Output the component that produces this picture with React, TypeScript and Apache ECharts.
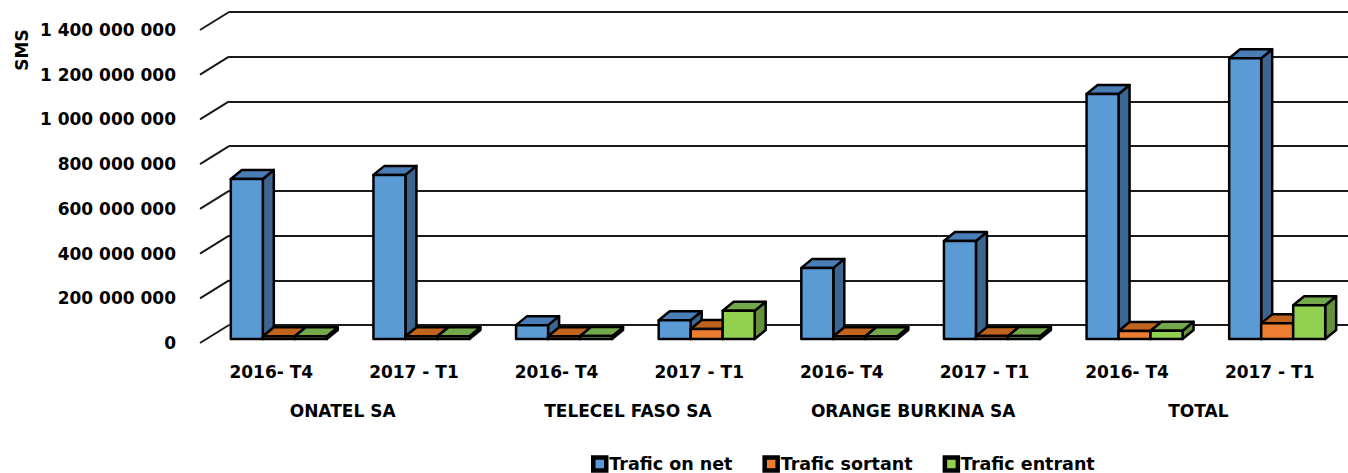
import React, { useEffect, useRef } from "react";
import * as echarts from "echarts";

const categories = ["2016- T4", "2017 - T1", "2016- T4", "2017 - T1", "2016- T4", "2017 - T1", "2016- T4", "2017 - T1"];
const groups = ["ONATEL SA", "TELECEL FASO SA", "ORANGE BURKINA SA", "TOTAL"];
const traficOnNet = [716e6, 734e6, 62e6, 84e6, 318e6, 438e6, 1096e6, 1256e6];
const traficSortant = [12e6, 12e6, 12e6, 45e6, 12e6, 13e6, 36e6, 70e6];
const traficEntrant = [12e6, 12e6, 13e6, 126e6, 12e6, 13e6, 37e6, 151e6];
const yTicks = [0, 2e8, 4e8, 6e8, 8e8, 10e8, 12e8, 14e8];

const FONT = "DejaVu Sans";
const DX = 11;
const DY = -9;
const BAR_W = 32;
const SHIFT = 7.5;
const BASE_LIFT = 4;

const fmt = (v: number) => String(v).replace(/\B(?=(\d{3})+(?!\d))/g, " ");

function barSeries(name: string, data: number[], idx: number, front: string, top: string, side: string) {
  return {
    type: "custom",
    name,
    xAxisIndex: 0,
    yAxisIndex: 0,
    itemStyle: { color: front },
    clip: false,
    data: data.map((v, i) => [i, v]),
    encode: { x: 0, y: 1 },
    renderItem: (params: any, api: any) => {
      const cat = api.value(0);
      const val = api.value(1);
      const b = api.coord([cat, 0]);
      const t = api.coord([cat, val]);
      const x = b[0] + SHIFT - 1.5 * BAR_W + idx * BAR_W;
      const by = b[1] - BASE_LIFT;
      const ty = t[1] - BASE_LIFT;
      const stroke = { stroke: "#000", lineWidth: 2.5, lineJoin: "round" };
      return {
        type: "group",
        children: [
          {
            type: "polygon",
            shape: { points: [[x + BAR_W, ty], [x + BAR_W + DX, ty + DY], [x + BAR_W + DX, by + DY], [x + BAR_W, by]] },
            style: { fill: side, ...stroke },
          },
          {
            type: "polygon",
            shape: { points: [[x, ty], [x + DX, ty + DY], [x + BAR_W + DX, ty + DY], [x + BAR_W, ty]] },
            style: { fill: top, ...stroke },
          },
          {
            type: "rect",
            shape: { x, y: ty, width: BAR_W, height: by - ty },
            style: { fill: front, ...stroke },
          },
        ],
      };
    },
  };
}

export default function App() {
  const ref = useRef<HTMLDivElement>(null);
  useEffect(() => {
    if (!ref.current) return;
    const chart = echarts.init(ref.current, null, { renderer: "svg" });
    const labelStyle = { fontFamily: FONT, fontWeight: "bold", fontSize: 17, color: "#000" };
    chart.setOption({
      animation: false,
      backgroundColor: "#fff",
      grid: [
        { left: 200, right: 7, top: 30, bottom: 130 },
        { left: 229, right: 0, top: 12, bottom: 148 },
      ],
      xAxis: [
        {
          type: "category",
          gridIndex: 0,
          data: categories,
          axisLine: { show: false },
          axisTick: { show: false },
          axisLabel: { ...labelStyle, margin: 20, interval: 0 },
        },
        {
          type: "category",
          gridIndex: 0,
          position: "bottom",
          offset: 39,
          data: groups,
          axisLine: { show: false },
          axisTick: { show: false },
          axisLabel: { ...labelStyle, margin: 20, interval: 0 },
        },
        {
          type: "category",
          gridIndex: 1,
          data: categories,
          show: false,
        },
      ],
      yAxis: [
        {
          type: "value",
          gridIndex: 0,
          min: 0,
          max: 1.4e9,
          interval: 2e8,
          axisLine: { show: false },
          axisTick: { show: false },
          splitLine: { show: false },
          axisLabel: { ...labelStyle, margin: 24, formatter: (v: number) => fmt(v) },
        },
        {
          type: "value",
          gridIndex: 1,
          min: 0,
          max: 1.4e9,
          interval: 2e8,
          axisLine: { show: false },
          axisTick: { show: false },
          axisLabel: { show: false },
          splitLine: { show: true, lineStyle: { color: "#1a1a1a", width: 2 } },
        },
      ],
      legend: {
        left: 586,
        top: 450,
        itemWidth: 13,
        itemHeight: 13,
        itemGap: 30,
        icon: "rect",
        itemStyle: { borderColor: "#000", borderWidth: 4.5 },
        textStyle: { ...labelStyle, fontSize: 17.5, lineHeight: 18, padding: [0, 0, 0, -2] },
        data: ["Trafic on net", "Trafic sortant", "Trafic entrant"],
      },
      graphic: [
        {
          type: "text",
          x: 22,
          y: 50,
          rotation: Math.PI / 2,
          style: {
            text: "SMS",
            font: `bold 17px "${FONT}"`,
            fill: "#000",
            align: "center",
            verticalAlign: "middle",
          },
        },
      ],
      series: [
        {
          type: "custom",
          name: "diag",
          xAxisIndex: 0,
          yAxisIndex: 0,
          clip: false,
          silent: true,
          data: yTicks.map((v) => [0, v]),
          encode: { x: 0, y: 1 },
          renderItem: (params: any, api: any) => {
            const p = api.coord([api.value(0), api.value(1)]);
            const w = api.size([1, 0])[0];
            const x0 = p[0] - w / 2;
            return {
              type: "line",
              shape: { x1: x0, y1: p[1], x2: x0 + 29, y2: p[1] - 18 },
              style: { stroke: "#1a1a1a", lineWidth: 2 },
            };
          },
        },
        barSeries("Trafic on net", traficOnNet, 0, "#5B9BD5", "#4A7DB5", "#3C6690"),
        barSeries("Trafic sortant", traficSortant, 1, "#ED7D31", "#C0631F", "#A85A22"),
        barSeries("Trafic entrant", traficEntrant, 2, "#92D050", "#74A84A", "#64913A"),
      ],
    });
    return () => chart.dispose();
  }, []);
  return <div ref={ref} style={{ position: "fixed", left: 0, top: 0, width: 1348, height: 473 }} />;
}
